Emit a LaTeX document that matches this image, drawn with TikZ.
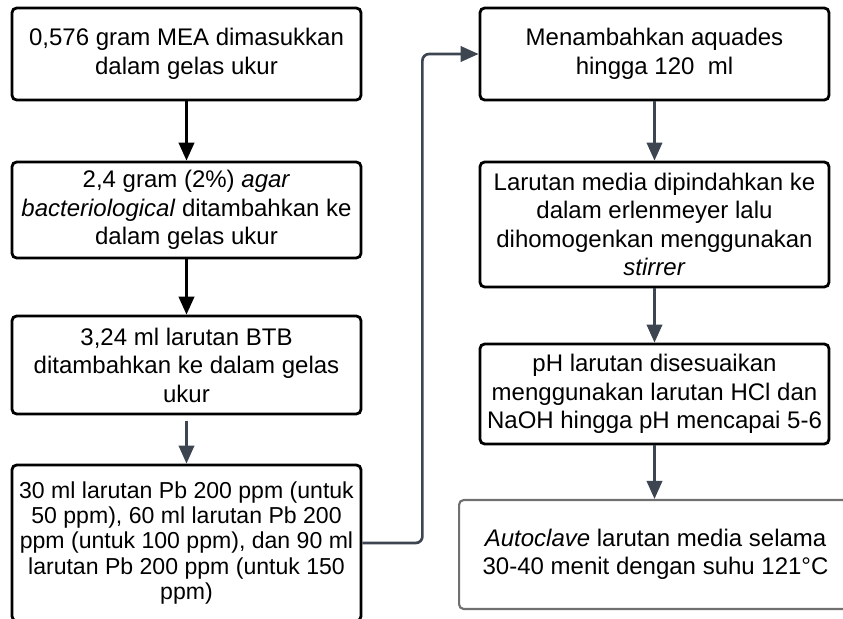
\documentclass[tikz,border=0pt]{standalone}
\usepackage{fontspec}
\setmainfont{Liberation Sans}
\usetikzlibrary{arrows.meta}
\definecolor{slate}{HTML}{3D4550}
\definecolor{boxgray}{HTML}{707070}
\tikzset{
  stepbox/.style={draw=black, line width=2.1pt, rounded corners=3.5pt, fill=white,
    minimum width=261.75pt, inner sep=0pt, align=center,
    font=\fontsize{18pt}{21.4pt}\selectfont},
  lastbox/.style={stepbox, draw=boxgray, line width=1.6pt, minimum width=300pt},
  blackarrow/.style={draw=black, line width=2.2pt, -{Triangle[length=13.5pt,width=11.5pt]}},
  slatearrow/.style={draw=slate, line width=2pt, -{Triangle[length=13.5pt,width=11.5pt]}},
}
\begin{document}
\begin{tikzpicture}[x=0.75pt, y=-0.75pt]
\useasboundingbox (0,0) rectangle (843,618);
\clip (0,0) rectangle (843,618);
\fill[white] (0,0) rectangle (843,618);
% left column
\node[stepbox, minimum height=69pt] (b1) at (186.5,54) {0,576 gram MEA dimasukkan\\dalam gelas ukur};
\node[stepbox, minimum height=72pt] (b2) at (186.5,210) {2,4 gram (2\%) \textit{agar}\\\textit{bacteriological} ditambahkan ke\\dalam gelas ukur};
\node[stepbox, minimum height=73.5pt] (b3) at (186.5,365) {3,24 ml larutan BTB\\ditambahkan ke dalam gelas\\ukur};
\node[stepbox, minimum height=117pt, font=\fontsize{17.3pt}{18.9pt}\selectfont] (b4) at (186.5,543) {30 ml larutan Pb 200 ppm (untuk\\50 ppm), 60 ml larutan Pb 200\\ppm (untuk 100 ppm), dan 90 ml\\larutan Pb 200 ppm (untuk 150\\ppm)};
% right column
\node[stepbox, minimum height=69pt] (b5) at (654.5,54) {Menambahkan aquades\\hingga 120~~ml};
\node[stepbox, minimum height=93.75pt] (b6) at (654.5,224.5) {Larutan media dipindahkan ke\\dalam erlenmeyer lalu\\dihomogenkan menggunakan\\\textit{stirrer}};
\node[stepbox, minimum height=75pt] (b7) at (654.5,394) {pH larutan disesuaikan\\menggunakan larutan HCl dan\\NaOH hingga pH mencapai 5-6};
\node[lastbox, minimum height=81.75pt, anchor=west] (b8) at (458,554.5) {\textit{Autoclave} larutan media selama\hspace*{5.25pt}\\30-40 menit dengan suhu 121°C\hspace*{5.25pt}};
% connectors
\draw[blackarrow] (b1.south) -- (b2.north);
\draw[blackarrow] (b2.south) -- (b3.north);
\draw[slatearrow, shorten <=4pt] (b3.south) -- (b4.north);
\draw[slatearrow, rounded corners=5pt] (b4.east) -- ++(60,0) |- (b5.west);
\draw[slatearrow] (b5.south) -- (b6.north);
\draw[slatearrow] (b6.south) -- (b7.north);
\draw[slatearrow] (b7.south) -- (b8.north -| b7.south);
\end{tikzpicture}
\end{document}
